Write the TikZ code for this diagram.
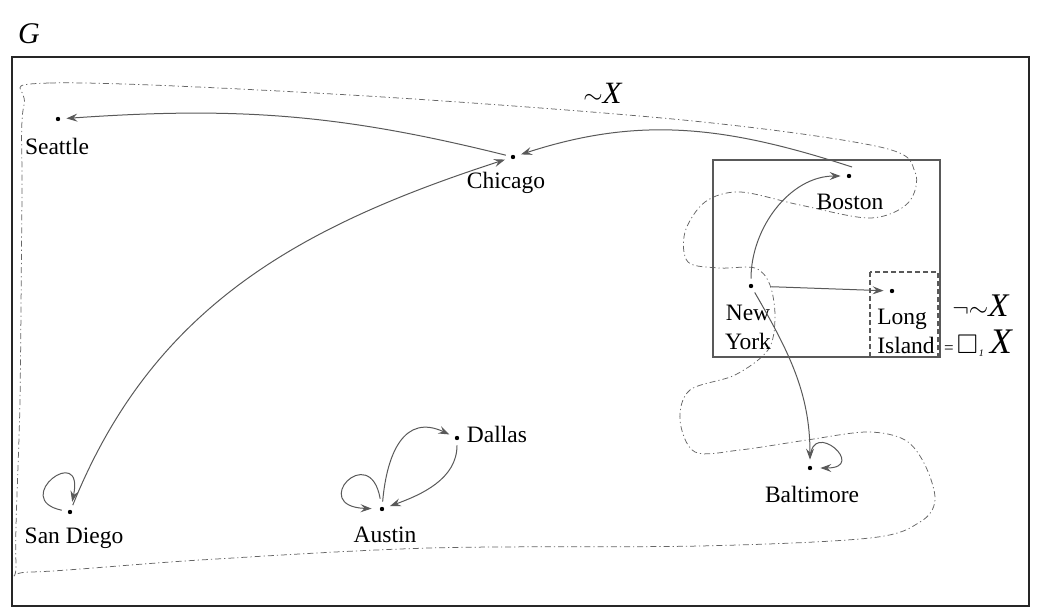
\documentclass[tikz,border=0pt]{standalone}
\usepackage{amssymb}
\usepackage{fontspec}
\setmainfont{Liberation Serif}
\usetikzlibrary{arrows.meta}

\begin{document}
\begin{tikzpicture}[
  x=1pt, y=-1pt,
  city/.style={circle,fill=black,inner sep=0pt,minimum size=4.4pt},
  lbl/.style={font=\fontsize{23.5}{29}\selectfont,inner sep=0pt,align=center},
  sym/.style={inner sep=0pt},
  edge/.style={draw=black!65,line width=1pt,shorten <=5pt,shorten >=6pt,
    -{Stealth[length=11pt,width=8pt,inset=4pt]}},
  region/.style={draw=black!60,line width=0.75pt,
    dash pattern=on 6pt off 3pt on 1.2pt off 3pt},
  frame/.style={draw=black!65,line width=1.1pt}
]
  \useasboundingbox (0,0) rectangle (1042,615);

  % outer frame and region ~X
  \draw[line width=1.3pt,black!85] (12,57) rectangle (1029,606);
  \node[sym,font=\fontsize{30}{30}\selectfont] (gname) at (29,34) {\textit{G}};
  \draw[region] plot[smooth cycle,tension=0.55] coordinates {
    (24,105) (50,83) (350,95) (683,120) (880,147) (915,172) (908,203)
    (870,218) (800,205) (740,192) (705,202) (685,232) (688,262) (720,268)
    (755,268) (770,285) (775,318) (768,350) (735,375) (690,390) (680,420)
    (695,452) (740,450) (807,440) (867,432) (905,440) (925,465) (935,500)
    (920,522) (870,538) (700,546) (430,548) (200,560) (30,572) (16,562)
    (20,400) (22,200)};
  \node[sym,font=\fontsize{31}{31}\selectfont] (notx) at (603,93) {$\sim$\textit{X}};

  % boxes
  \draw[frame] (713,160) rectangle (940,357);
  \draw[frame,dash pattern=on 5pt off 3pt] (870,272) rectangle (938,357);
  \node[sym,font=\fontsize{33}{33}\selectfont] (negx) at (981,306) {$\neg{\sim}$\textit{X}};
  \node[sym,anchor=west] (boxx) at (944,343)
    {{\fontsize{17}{17}\selectfont =}\hspace{3pt}{\fontsize{27}{27}\selectfont$\square$}\hspace{1pt}\raisebox{-3pt}{\fontsize{10}{10}\selectfont\itshape 1}\hspace{6pt}{\fontsize{36}{36}\selectfont\textit{X}}};

  % cities
  \node[city] (sea) at (58,119) {};
  \node[city] (chi) at (513,157) {};
  \node[city] (bos) at (849,176) {};
  \node[city] (ny) at (751,286) {};
  \node[city] (li) at (892,291) {};
  \node[city] (dal) at (457,438) {};
  \node[city] (aus) at (382,509) {};
  \node[city] (sd) at (70,512) {};
  \node[city] (bal) at (810,468) {};

  \node[lbl] (seaL) at (57,146) {Seattle};
  \node[lbl] (chiL) at (506,183) {Chicago};
  \node[lbl] (bosL) at (850,202) {Boston};
  \node[lbl] (nyL) at (748,327) {New\\York};
  \node[lbl,align=left] (liL) at (906,331) {Long\\Island};
  \node[lbl] (dalL) at (497,434) {Dallas};
  \node[lbl] (ausL) at (385,535) {Austin};
  \node[lbl] (sdL) at (74,538) {San Diego};
  \node[lbl] (balL) at (812,494) {Baltimore};

  % flights
  \draw[edge] (chi) to[out=166,in=4] (sea);
  \draw[edge,shorten <=0pt] ([shift={(3,-9)}]bos.center) to[out=162,in=18] (chi);
  \draw[edge] (sd) to[out=68,in=198] (chi);
  \draw[edge,shorten <=6pt,shorten >=8pt] (sd) .. controls +(168:62pt) and +(78:72pt) .. (sd);
  \draw[edge] (ny) to[out=90,in=180] (bos);
  \draw[edge,shorten <=18pt] (ny) -- (li);
  \draw[edge] (ny) to[out=-60,in=90] (bal);
  \draw[edge,shorten <=8pt,shorten >=8pt] (bal) .. controls +(88:50pt) and +(0:58pt) .. (bal);
  \draw[edge,shorten <=8pt,shorten >=8pt] (aus) .. controls +(100:70pt) and +(178:74pt) .. (aus);
  \draw[edge] (aus) to[out=85,in=155,looseness=1.4] (dal);
  \draw[edge] (dal) to[out=-90,in=20] (aus);
\end{tikzpicture}
\end{document}
